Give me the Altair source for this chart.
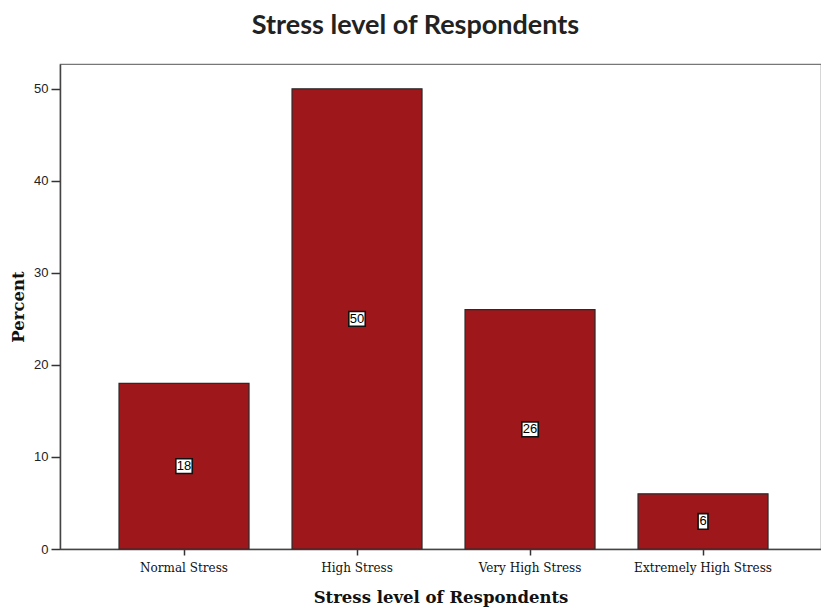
import altair as alt
import pandas as pd

categories = ["Normal Stress", "High Stress", "Very High Stress", "Extremely High Stress"]
percents = [18, 50, 26, 6]

df = pd.DataFrame({"level": categories, "percent": percents})

x_enc = alt.X(
    "level:N",
    sort=categories,
    scale=alt.Scale(paddingInner=0.2486, paddingOuter=0.3237, align=0.527),
    axis=alt.Axis(
        title="Stress level of Respondents",
        labelAngle=0,
        labelFont="DejaVu Serif",
        labelFontSize=12,
        labelColor="#111",
        labelPadding=7,
        tickSize=6,
        tickColor="#333",
        tickWidth=1.5,
        domainColor="#444",
        domainWidth=1.5,
        titleFont="DejaVu Serif",
        titleFontSize=16.5,
        titleFontWeight="bold",
        titleColor="#111",
        titlePadding=16,
    ),
)

y_enc = alt.Y(
    "percent:Q",
    scale=alt.Scale(domain=[0, 52.7], nice=False),
    axis=alt.Axis(
        title="Percent",
        values=[0, 10, 20, 30, 40, 50],
        grid=False,
        labelFont="Liberation Sans",
        labelFontSize=13,
        labelColor="#222",
        labelPadding=3,
        tickSize=9,
        tickColor="#333",
        tickWidth=1.5,
        domainColor="#444",
        domainWidth=1.5,
        titleFont="DejaVu Serif",
        titleFontSize=16.5,
        titleFontWeight="bold",
        titleColor="#111",
        titlePadding=7,
    ),
)

bars = alt.Chart(df).mark_bar(
    color="#9E171B", stroke="#2a2a2a", strokeWidth=1.2
).encode(x=x_enc, y=y_enc)

base = alt.Chart(df).transform_calculate(
    mid="datum.percent / 2",
    box="datum.percent < 10 ? 'M-0.6,-0.95H0.6V0.95H-0.6Z' : 'M-1,-0.9H1V0.9H-1Z'",
)

boxes = base.mark_point(
    filled=True, fill="white", stroke="#111", strokeWidth=1.6, opacity=1, size=270
).encode(
    x=alt.X("level:N", sort=categories),
    y=alt.Y("mid:Q"),
    shape=alt.Shape("box:N", scale=None, legend=None),
)

labels = base.mark_text(
    font="Liberation Sans", fontSize=13, color="#000"
).encode(
    x=alt.X("level:N", sort=categories),
    y=alt.Y("mid:Q"),
    text=alt.Text("percent:Q"),
)

chart = alt.layer(bars, boxes, labels).properties(
    width=761,
    height=485,
    autosize=alt.AutoSizeParams(type="none"),
    padding={"left": 52, "top": 56, "right": 0, "bottom": 58},
    title=alt.TitleParams(
        "Stress level of Respondents",
        font="Lato",
        fontSize=27,
        fontWeight="bold",
        color="#222",
        anchor="middle",
        dx=-25,
        offset=24,
    ),
).configure_view(stroke="#777", strokeWidth=1.2)

chart.save("out.html", embed_options={"renderer": "svg", "actions": False})
